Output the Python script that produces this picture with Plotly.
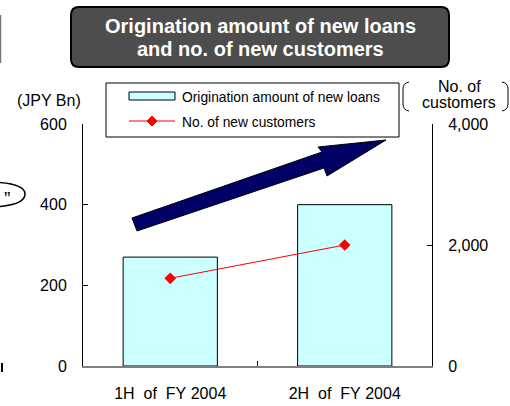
import plotly.graph_objects as go

# Data
periods = ["1H\u00a0\u00a0of\u00a0\u00a0FY\u00a02004", "2H\u00a0\u00a0of\u00a0\u00a0FY\u00a02004"]
origination_bn = [270, 400]          # JPY Bn, left axis
new_customers = [1450, 2000]         # count, right axis
left_ticks = [0, 200, 400, 600]
right_ticks = [0, 2000, 4000]

W, H = 510, 406
L, R, T, B = 83, 78, 124, 40
PW, PH = W - L - R, H - T - B
FONT = "Liberation Sans, Arial, sans-serif"


def px(x):
    return (x - L) / PW


def py(y):
    return (H - B - y) / PH


def pt(x, y):
    return f"{px(x):.5f},{py(y):.5f}"


def path(points, close=True):
    s = "M " + " L ".join(pt(x, y) for x, y in points)
    return s + (" Z" if close else "")


def text(x, y, s, size, color="black", xanchor="center"):
    return dict(xref="paper", yref="paper", x=px(x), y=py(y), text=s, showarrow=False,
                xanchor=xanchor, yanchor="middle",
                font=dict(family=FONT, size=size, color=color))


fig = go.Figure()
fig.add_trace(go.Bar(
    x=periods, y=origination_bn, name="Origination amount of new loans",
    width=0.54, marker=dict(color="#ccffff", line=dict(color="black", width=1)),
    yaxis="y",
))
fig.add_trace(go.Scatter(
    x=periods, y=new_customers, name="No. of new customers", mode="lines+markers",
    line=dict(color="#ff0000", width=1),
    marker=dict(symbol="diamond", size=9, color="#ff0000"),
    yaxis="y2",
))

shapes = []
annotations = []

# Title box with rounded corners
r = 8
x0, x1, y0, y1 = 71, 449, 7, 67
title_path = (f"M {pt(x0 + r, y0)} L {pt(x1 - r, y0)} Q {pt(x1, y0)} {pt(x1, y0 + r)} "
              f"L {pt(x1, y1 - r)} Q {pt(x1, y1)} {pt(x1 - r, y1)} "
              f"L {pt(x0 + r, y1)} Q {pt(x0, y1)} {pt(x0, y1 - r)} "
              f"L {pt(x0, y0 + r)} Q {pt(x0, y0)} {pt(x0 + r, y0)} Z")
shapes.append(dict(type="path", xref="paper", yref="paper", path=title_path,
                   fillcolor="#4d4d4d", line=dict(color="black", width=2), layer="above"))
annotations.append(text(260, 26, "<b>Origination amount of new loans</b>", 20, "white"))
annotations.append(text(260, 49, "<b>and no. of new customers</b>", 20, "white"))

# Growth arrow
arrow_pts = [(132, 218), (322, 152), (318, 147), (386, 140), (327, 176), (324, 168), (137, 231)]
shapes.append(dict(type="path", xref="paper", yref="paper", path=path(arrow_pts),
                   fillcolor="#000066", line=dict(color="black", width=1), layer="above"))

# Legend
shapes.append(dict(type="rect", xref="paper", yref="paper",
                   x0=px(106), x1=px(399), y0=py(83), y1=py(137),
                   fillcolor="white", line=dict(color="black", width=1), layer="above"))
shapes.append(dict(type="rect", xref="paper", yref="paper",
                   x0=px(129), x1=px(175), y0=py(92), y1=py(100),
                   fillcolor="#ccffff", line=dict(color="black", width=1), layer="above"))
shapes.append(dict(type="line", xref="paper", yref="paper",
                   x0=px(129), x1=px(175), y0=py(121), y1=py(121),
                   line=dict(color="#ff0000", width=1), layer="above"))
shapes.append(dict(type="path", xref="paper", yref="paper",
                   path=path([(152, 116), (157, 121), (152, 126), (147, 121)]),
                   fillcolor="#ff0000", line=dict(color="#ff0000", width=1), layer="above"))
annotations.append(text(180, 97, "Origination amount of new loans", 13.8, xanchor="left"))
annotations.append(text(180, 122, "No. of new customers", 13.8, xanchor="left"))

# Axis captions
annotations.append(text(49, 100, "(JPY Bn)", 16))
annotations.append(text(459, 86.5, "No. of", 16))
annotations.append(text(459, 102, "customers", 16))
shapes.append(dict(type="path", xref="paper", yref="paper", layer="above",
                   path=f"M {pt(409, 82)} Q {pt(403, 83)} {pt(403, 89)} "
                        f"L {pt(403, 104)} Q {pt(403, 110)} {pt(409, 111)}",
                   line=dict(color="black", width=1)))
shapes.append(dict(type="path", xref="paper", yref="paper", layer="above",
                   path=f"M {pt(502, 82)} Q {pt(508, 83)} {pt(508, 89)} "
                        f"L {pt(508, 104)} Q {pt(508, 110)} {pt(502, 111)}",
                   line=dict(color="black", width=1)))

# Fragments of neighbouring slide objects at the left edge
shapes.append(dict(type="line", xref="paper", yref="paper",
                   x0=px(0.5), x1=px(0.5), y0=py(15), y1=py(63),
                   line=dict(color="#777777", width=1.5)))
shapes.append(dict(type="path", xref="paper", yref="paper",
                   path=f"M {pt(-10, 182)} Q {pt(25, 183)} {pt(25, 194)} "
                        f"Q {pt(25, 206)} {pt(-10, 207)}",
                   line=dict(color="black", width=1.5)))
annotations.append(text(7, 198, "\u201d", 19))
shapes.append(dict(type="line", xref="paper", yref="paper",
                   x0=px(2), x1=px(2), y0=py(363), y1=py(372),
                   line=dict(color="black", width=2)))

fig.update_layout(
    width=W, height=H, autosize=False,
    margin=dict(l=L, r=R, t=T, b=B, pad=0, autoexpand=False),
    paper_bgcolor="white", plot_bgcolor="white",
    showlegend=False, bargap=0.46,
    font=dict(family=FONT, size=16, color="black"),
    xaxis=dict(
        type="category", showgrid=False, zeroline=False, automargin=False,
        showline=True, linecolor="#808080", linewidth=2,
        ticks="inside", tickson="boundaries", ticklen=5, tickcolor="black",
        tickfont=dict(family=FONT, size=16), ticklabelstandoff=12,
    ),
    yaxis=dict(
        range=[0, 600], tickvals=left_ticks, showgrid=False, zeroline=False, automargin=False,
        showline=True, linecolor="black", linewidth=1,
        ticks="inside", ticklen=5, tickcolor="black",
        tickfont=dict(family=FONT, size=16), ticklabelstandoff=12,
    ),
    yaxis2=dict(
        range=[0, 4000], tickvals=right_ticks, tickformat=",", overlaying="y", side="right",
        showgrid=False, zeroline=False, automargin=False,
        showline=True, linecolor="black", linewidth=1,
        ticks="inside", ticklen=5, tickcolor="black",
        tickfont=dict(family=FONT, size=16), ticklabelstandoff=12,
    ),
    shapes=shapes, annotations=annotations,
)

fig.write_html("out.html")
